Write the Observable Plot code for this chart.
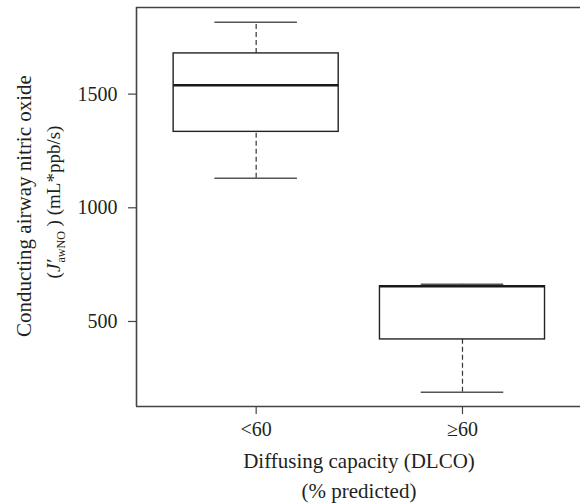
<!DOCTYPE html>
<html>
<head>
<meta charset="utf-8">
<script src="https://cdn.jsdelivr.net/npm/d3@7"></script>
<script src="https://cdn.jsdelivr.net/npm/@observablehq/plot@0.6"></script>
<style>
  html, body { margin: 0; padding: 0; background: #fff; overflow: hidden; }
  #chart svg { display: block; }
</style>
</head>
<body>
<div id="chart"></div>
<script>
// ---- data ----
const groups = ["<60", "≥60"];
const whiskerLow = [1130, 189];
const q1Values = [1334, 421];
const medians = [1539, 655];
const q3Values = [1679, 655];
const whiskerHigh = [1816, 664];
const yTicks = [500, 1000, 1500];

const data = groups.map((g, i) => ({
  g, pos: i + 1,
  lo: whiskerLow[i], q1: q1Values[i], med: medians[i], q3: q3Values[i], hi: whiskerHigh[i]
}));

const FONT = '"Liberation Serif", "DejaVu Serif", serif';
const TXT = "#231f20";
const xDomain = [0.42, 2.572];
const yDomain = [126, 1881];
const boxHalf = 0.4, capHalf = 0.2;

const svg = Plot.plot({
  width: 580,
  height: 504,
  marginLeft: 136,
  marginRight: 0,
  marginTop: 7,
  marginBottom: 98,
  style: { fontFamily: FONT, fontSize: "20px", color: TXT, background: "#fff" },
  x: { domain: xDomain, axis: null },
  y: { domain: yDomain, axis: null },
  marks: [
    // whiskers (dashed)
    Plot.ruleX(data, { x: "pos", y1: "q3", y2: "hi", stroke: "#333", strokeWidth: 1.2, strokeDasharray: "5,3" }),
    Plot.ruleX(data, { x: "pos", y1: "lo", y2: "q1", stroke: "#333", strokeWidth: 1.2, strokeDasharray: "5,3" }),
    // whisker caps
    Plot.ruleY(data, { y: "hi", x1: d => d.pos - capHalf, x2: d => d.pos + capHalf, stroke: "#555", strokeWidth: 1.4 }),
    Plot.ruleY(data, { y: "lo", x1: d => d.pos - capHalf, x2: d => d.pos + capHalf, stroke: "#555", strokeWidth: 1.4 }),
    // boxes
    Plot.rect(data, { x1: d => d.pos - boxHalf, x2: d => d.pos + boxHalf, y1: "q1", y2: "q3", fill: "white", stroke: "#222", strokeWidth: 1.4 }),
    // medians
    Plot.ruleY(data, { y: "med", x1: d => d.pos - boxHalf, x2: d => d.pos + boxHalf, stroke: "#1a1a1a", strokeWidth: 2.6 }),
    // frame (top, bottom, left; right edge lies outside the picture)
    Plot.ruleY([yDomain[0], yDomain[1]], { stroke: "#444", strokeWidth: 1.6 }),
    Plot.ruleX([xDomain[0]], { stroke: "#444", strokeWidth: 1.6 }),
    // axes
    Plot.axisY({ ticks: yTicks, tickFormat: d => String(d), tickSize: 8, tickPadding: 11, fontSize: 20, stroke: "#444", strokeWidth: 1.2, label: null }),
    Plot.axisX({ ticks: [1, 2], tickFormat: d => groups[d - 1], tickSize: 8, tickPadding: 7, fontSize: 20, stroke: "#444", strokeWidth: 1.2, label: null })
  ]
});

document.getElementById("chart").appendChild(svg);

const s = d3.select(svg);
// x axis title
s.append("text").attr("x", 359).attr("y", 468).attr("text-anchor", "middle")
  .attr("font-family", FONT).attr("font-size", 21).attr("fill", TXT)
  .text("Diffusing capacity (DLCO)");
s.append("text").attr("x", 359).attr("y", 498).attr("text-anchor", "middle")
  .attr("font-family", FONT).attr("font-size", 21).attr("fill", TXT)
  .text("(% predicted)");
// y axis title
s.append("text").attr("transform", "translate(31,206) rotate(-90)").attr("text-anchor", "middle")
  .attr("font-family", FONT).attr("font-size", 21).attr("fill", TXT)
  .text("Conducting airway nitric oxide");
const t2 = s.append("text").attr("transform", "translate(60,202) rotate(-90)").attr("text-anchor", "middle")
  .attr("font-family", FONT).attr("font-size", 19).attr("fill", TXT);
t2.append("tspan").text("(");
t2.append("tspan").attr("font-style", "italic").text("J′");
t2.append("tspan").attr("font-size", 12).attr("dy", 5).attr("dx", -3).text("awNO");
t2.append("tspan").attr("dy", -5).text(" ) (mL*ppb/s)");
</script>
</body>
</html>
